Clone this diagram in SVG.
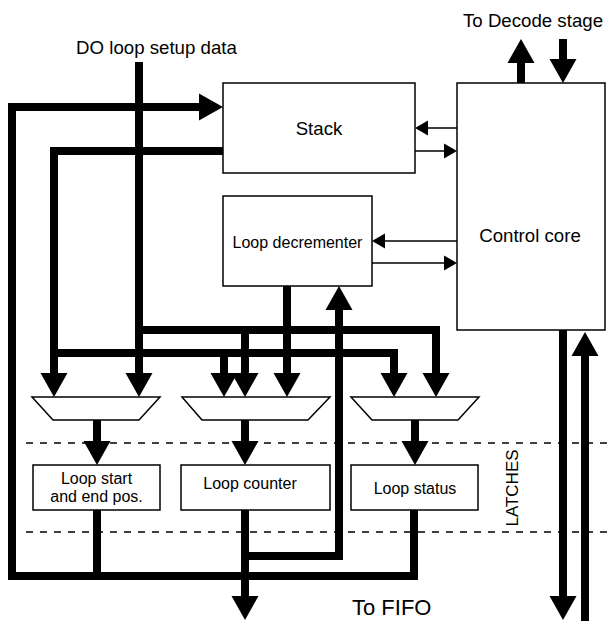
<svg xmlns="http://www.w3.org/2000/svg" width="607" height="621" viewBox="0 0 607 621">
<style>
text{font-family:"Liberation Sans",Arial,Helvetica,sans-serif;fill:#000}
.box{fill:#fff;stroke:#000;stroke-width:1.5}
.big{font-size:18.67px}
.sm{font-size:16px}
.bus{fill:none;stroke:#000;stroke-width:8;stroke-linejoin:miter;stroke-linecap:butt}
.thin{fill:none;stroke:#000;stroke-width:1.5}
.dash{fill:none;stroke:#000;stroke-width:1.3;stroke-dasharray:7 7}
</style>
<defs>
<marker id="ah" markerUnits="userSpaceOnUse" markerWidth="26" markerHeight="30" viewBox="0 -15 26 30" refX="0" refY="0" orient="auto" overflow="visible">
<path d="M0,-13.5 L24,0 L0,13.5 z" fill="#000"/>
</marker>
<marker id="as" markerUnits="userSpaceOnUse" markerWidth="14" markerHeight="16" viewBox="0 -8 14 16" refX="0" refY="0" orient="auto" overflow="visible">
<path d="M0,-7.5 L13,0 L0,7.5 z" fill="#000"/>
</marker>
</defs>
<rect width="607" height="621" fill="#fff"/>

<g id="latch-lines">
<line class="dash" x1="26" y1="443" x2="607" y2="443"/>
<line class="dash" x1="26" y1="532" x2="607" y2="532"/>
</g>

<g id="connectors">
<path class="bus" d="M139,62 V373" marker-end="url(#ah)"/>
<path class="bus" d="M223,151 H54 V373" marker-end="url(#ah)"/>
<path class="bus" d="M54,353 H394 V373" marker-end="url(#ah)"/>
<path class="bus" d="M224,353 V373" marker-end="url(#ah)"/>
<path class="bus" d="M139,330 H436 V373" marker-end="url(#ah)"/>
<path class="bus" d="M245,330 V373" marker-end="url(#ah)"/>
<path class="bus" d="M287,286 V373" marker-end="url(#ah)"/>
<path class="bus" d="M97,420 V441" marker-end="url(#ah)"/>
<path class="bus" d="M245,420 V441" marker-end="url(#ah)"/>
<path class="bus" d="M415,420 V441" marker-end="url(#ah)"/>
<path class="bus" d="M414,510 V576 H12 V107 H199" marker-end="url(#ah)"/>
<path class="bus" d="M97,510 V576"/>
<path class="bus" d="M245,510 V596" marker-end="url(#ah)"/>
<path class="bus" d="M245,556 H339 V310" marker-end="url(#ah)"/>
<path class="bus" d="M563,330 V596" marker-end="url(#ah)"/>
<path class="bus" d="M585,621 V356" marker-end="url(#ah)"/>
<path class="bus" d="M521,83 V63" marker-end="url(#ah)"/>
<path class="bus" d="M563,39 V59" marker-end="url(#ah)"/>
<path class="thin" d="M457,128 H428" marker-end="url(#as)"/>
<path class="thin" d="M415,151 H444" marker-end="url(#as)"/>
<path class="thin" d="M457,241 H385" marker-end="url(#as)"/>
<path class="thin" d="M372,263 H444" marker-end="url(#as)"/>
</g>

<g id="stack">
<rect class="box" x="223" y="83" width="192" height="90"/>
<text class="big" x="319" y="135" text-anchor="middle">Stack</text>
</g>
<g id="control-core">
<rect class="box" x="457" y="83" width="148" height="247"/>
<text class="big" x="530" y="242" text-anchor="middle">Control core</text>
</g>
<g id="loop-decrementer">
<rect class="box" x="223" y="196" width="149" height="90"/>
<text class="sm" x="297.5" y="248" text-anchor="middle">Loop decrementer</text>
</g>
<g id="mux1"><polygon class="box" points="32,397 160,397 139,420 53,420"/></g>
<g id="mux2"><polygon class="box" points="182,397 330,397 308,420 202,420"/></g>
<g id="mux3"><polygon class="box" points="351,397 479,397 458,420 372,420"/></g>
<g id="loop-start">
<rect class="box" x="33" y="465" width="127" height="45"/>
<text class="sm" x="96.5" y="484" text-anchor="middle">Loop start</text>
<text class="sm" x="96.5" y="502" text-anchor="middle">and end pos.</text>
</g>
<g id="loop-counter">
<rect class="box" x="181" y="465" width="149" height="45"/>
<text class="sm" x="250" y="489" text-anchor="middle">Loop counter</text>
</g>
<g id="loop-status">
<rect class="box" x="351" y="465" width="127" height="45"/>
<text class="sm" x="415" y="494" text-anchor="middle">Loop status</text>
</g>

<g id="labels">
<text class="big" x="156.5" y="54" text-anchor="middle">DO loop setup data</text>
<text class="big" x="463" y="27">To Decode stage</text>
<text x="352" y="615" font-size="22">To FIFO</text>
<text font-size="17" transform="translate(518,488) rotate(-90)" text-anchor="middle">LATCHES</text>
</g>
</svg>
